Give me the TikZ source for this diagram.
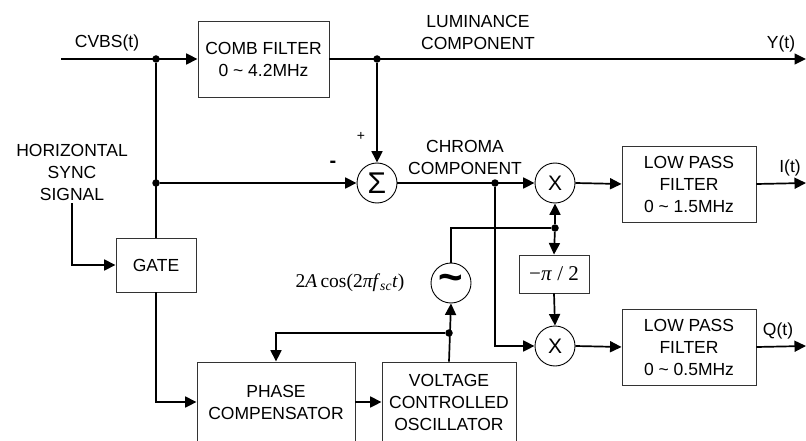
\documentclass[tikz,border=0pt]{standalone}
\usepackage[no-math]{fontspec}
\setmainfont{Liberation Sans}
\newfontfamily\formulafont{Liberation Serif}
\usetikzlibrary{arrows.meta}
\newcommand\diagfont{\fontsize{17.5}{22}\selectfont}
\tikzset{
    block box/.style={
        draw=black!80,
        line width=0.9pt,
        align=center,
        inner sep=0pt,
        font=\diagfont
    },
    op circle/.style={
        draw,
        circle,
        line width=0.9pt,
        minimum size=40pt,
        inner sep=0pt
    },
    signal line/.style={
        line width=1.7pt,
        black
    },
    junction dot/.style={
        fill,
        circle,
        inner sep=0pt,
        minimum size=7.5pt
    },
    plain label/.style={
        align=center,
        inner sep=0pt,
        font=\diagfont
    }
}
\begin{document}
\begin{tikzpicture}[x=1pt,y=-1pt,>={Triangle[length=11.5pt,width=11pt]}]
\useasboundingbox (0,0) rectangle (806,441);
\clip (0,0) rectangle (806,441);

\node[block box, minimum width=131pt, minimum height=76pt] (comb) at (263.5,59) {COMB FILTER\\0 \textasciitilde{} 4.2MHz};
\node[block box, minimum width=80pt, minimum height=54pt] (gate) at (156,265) {GATE};
\node[block box, minimum width=158pt, minimum height=80pt] (phase) at (276,402) {PHASE\\COMPENSATOR};
\node[block box, minimum width=134pt, minimum height=80pt] (vco) at (449,402) {VOLTAGE\\CONTROLLED\\OSCILLATOR};
\node[block box, minimum width=134pt, minimum height=76pt] (lpfi) at (689,184) {LOW PASS\\FILTER\\0 \textasciitilde{} 1.5MHz};
\node[block box, minimum width=134pt, minimum height=76pt] (lpfq) at (689,347) {LOW PASS\\FILTER\\0 \textasciitilde{} 0.5MHz};
\node[block box, minimum width=70pt, minimum height=38pt] (shift) at (554,274) {\formulafont\fontsize{21}{21}\selectfont −\textit{π} / 2};

\node[op circle] (sum) at (377,183) {\fontsize{30}{30}\selectfont Σ};
\node[op circle] (mixi) at (555,183) {\fontsize{21}{21}\selectfont X};
\node[op circle] (mixq) at (555,346) {\fontsize{21}{21}\selectfont X};
\node[op circle] (osc) at (451,283) {\fontsize{42}{42}\selectfont\bfseries\raisebox{-5pt}{\textasciitilde}};

\node[junction dot] (d1) at (156,59) {};
\node[junction dot] (d2) at (377,59) {};
\node[junction dot] (d3) at (156,183) {};
\node[junction dot] (d4) at (495,183) {};
\node[junction dot] (d5) at (555,228) {};
\node[junction dot] (d6) at (449,333) {};

\coordinate (cvbs) at (61,59);
\coordinate (yout) at (806,59);
\coordinate (iout) at (806,183);
\coordinate (qout) at (806,346);

\node[plain label] (cvbslabel) at (107,43) {CVBS(t)};
\node[plain label] (lumlabel) at (478,32) {LUMINANCE\\COMPONENT};
\node[plain label] (ylabel) at (781,44) {Y(t)};
\node[plain label] (sync) at (72,172) {HORIZONTAL\\SYNC\\SIGNAL};
\node[plain label, font=\fontsize{14}{14}\selectfont] (plus) at (361,136) {+};
\node[plain label, font=\fontsize{20}{20}\selectfont\bfseries] (minus) at (333,164) {-};
\node[plain label] (chromalabel) at (465,157) {CHROMA\\COMPONENT};
\node[plain label] (ilabel) at (790,168) {I(t)};
\node[plain label] (qlabel) at (778,331) {Q(t)};
\node[plain label, font=\formulafont\fontsize{19.5}{20}\selectfont] (carrier) at (350,283) {2\textit{A}\,cos(2\textit{πf}\textsubscript{\textit{sc}}\textit{t})};

\draw[signal line,->] (cvbs) -- (comb.west);
\draw[signal line,->] (comb.east) -- (yout);
\draw[signal line,->] (d2) -- (sum.north);
\draw[signal line] (d1) -- (d1 |- gate.north);
\draw[signal line,->] (d3) -- (sum.west);
\draw[signal line,->] ([yshift=-3pt]sync.south) |- (gate.west);
\draw[signal line,->] (gate.south) |- (phase.west);
\draw[signal line,->] (sum.east) -- (mixi.west);
\draw[signal line,->] (mixi.east) -- (lpfi.west);
\draw[signal line,->] (lpfi.east) -- (iout);
\draw[signal line,->] (d4) |- (mixq.west);
\draw[signal line,->] (mixq.east) -- (lpfq.west);
\draw[signal line,->] (lpfq.east) -- (qout);
\draw[signal line] (osc.north) |- (d5);
\draw[signal line,->] (d5) -- (mixi.south);
\draw[signal line,->] (d5) -- (shift.north);
\draw[signal line,->] (shift.south) -- (mixq.north);
\draw[signal line,->] (vco.north) -- (osc.south);
\draw[signal line,->] (d6) -| (phase.north);
\draw[signal line,->] (phase.east) -- (vco.west);
\end{tikzpicture}
\end{document}
